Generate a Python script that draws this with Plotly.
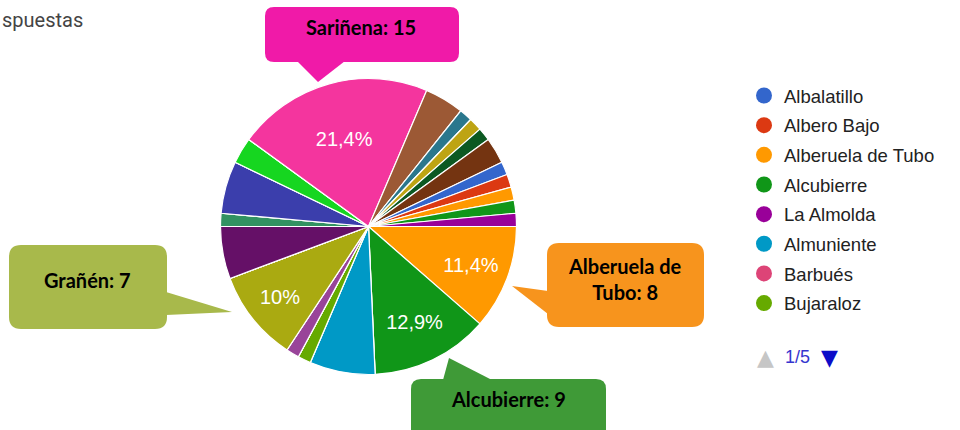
import math
import plotly.graph_objects as go

# ---------------- data ----------------
categories = [
    "Albalatillo", "Albero Bajo", "Alberuela de Tubo", "Alcubierre", "La Almolda",
    "Almuniente", "Barbués", "Bujaraloz", "Capdesaso", "Castejón de Monegros",
    "Castelflorite", "Farlete", "Grañén", "Huerto", "Lalueza", "Lanaja",
    "Leciñena", "Monegrillo", "Peñalba", "Perdiguera", "Poleñino", "Robres",
    "Sangarrén", "Sariñena", "Sena", "Senés de Alcubierre", "Tardienta",
    "Torralba de Aragón", "Torres de Barbués", "Valfarta", "Villanueva de Sigena",
    "Cartuja de Monegros", "Lastanosa", "Orillena", "Pallaruelo de Monegros",
    "San Juan del Flumen",
]
responses = [
    0, 0, 8, 9, 0,
    5, 0, 1, 0, 0,
    1, 0, 7, 0, 0, 0,
    4, 1, 0, 4, 0, 2,
    0, 15, 3, 0, 1,
    0, 1, 1, 2,
    1, 1, 1, 1,
    1,
]
palette = [
    "#3366cc", "#dc3912", "#ff9900", "#109618", "#990099", "#0099c6", "#dd4477",
    "#66aa00", "#b82e2e", "#316395", "#994499", "#22aa99", "#aaaa11", "#6633cc",
    "#e67300", "#8b0707", "#651067", "#329262", "#5574a6", "#3b3eac", "#b77322",
    "#16d620", "#b91383", "#f4359e", "#9c5935", "#a9c413", "#2a778d", "#668d1c",
    "#bea413", "#0c5922", "#743411",
]
callout_names = ["Sariñena", "Alberuela de Tubo", "Alcubierre", "Grañén"]
title_text = "spuestas"
legend_page_size = 8
legend_page = 1

# ---------------- derived ----------------
total = sum(responses)
colors = [palette[i % len(palette)] for i in range(len(categories))]


def pct_label(v):
    p = v / total * 100
    if p < 9.5:
        return ""
    s = f"{p:.1f}".rstrip("0").rstrip(".")
    return s.replace(".", ",") + "%"


slice_text = [pct_label(v) for v in responses]

W, H = 960, 430
cx, cy, r = 368.5, 226.5, 148

fig = go.Figure()

fig.add_trace(go.Pie(
    labels=categories,
    values=responses,
    sort=False,
    direction="clockwise",
    rotation=90,
    marker=dict(colors=colors, line=dict(color="white", width=1.2)),
    text=slice_text,
    textinfo="text",
    textposition="inside",
    insidetextorientation="horizontal",
    textfont=dict(family="Liberation Sans, Arial", size=20, color="white"),
    showlegend=False,
    hoverinfo="label+value+percent",
    domain=dict(x=[(cx - r) / W, (cx + r) / W], y=[1 - (cy + r) / H, 1 - (cy - r) / H]),
))

# legend entries (first page)
start = (legend_page - 1) * legend_page_size
for name, col in zip(categories[start:start + legend_page_size], colors[start:start + legend_page_size]):
    fig.add_trace(go.Scatter(
        x=[None], y=[None], mode="markers", name=name, legendgroup=name,
        marker=dict(color=col, size=16, symbol="circle"),
        xaxis="x", yaxis="y",
    ))

n_pages = math.ceil(len(categories) / legend_page_size)


def rrect(x0, y0, x1, y1, rad):
    return (f"M {x0+rad},{y0} L {x1-rad},{y0} Q {x1},{y0} {x1},{y0+rad} "
            f"L {x1},{y1-rad} Q {x1},{y1} {x1-rad},{y1} L {x0+rad},{y1} "
            f"Q {x0},{y1} {x0},{y1-rad} L {x0},{y0+rad} Q {x0},{y0} {x0+rad},{y0} Z")


def tri(p):
    return f"M {p[0][0]},{p[0][1]} L {p[1][0]},{p[1][1]} L {p[2][0]},{p[2][1]} Z"


# callout layout: box, pointer, fill, text pos, wrapped text
callout_style = {
    "Sariñena": dict(box=(265, 7, 459, 62, 9), ptr=((297, 61), (345, 61), (318, 82)),
                     fill="#f01aa8", pos=(361, 27), wrap=None),
    "Alberuela de Tubo": dict(box=(547, 243, 704, 327, 12), ptr=((548, 291), (512, 286), (548, 314)),
                              fill="#f7941d", pos=(625, 279), wrap="Alberuela de<br>Tubo"),
    "Alcubierre": dict(box=(411, 379, 606, 445, 10), ptr=((443, 380), (449, 358), (492, 380)),
                       fill="#3f9a37", pos=(508, 399), wrap=None),
    "Grañén": dict(box=(9, 245, 167, 329, 12), ptr=((166, 292), (232, 312), (166, 315)),
                   fill="#a8b94b", pos=(87, 280), wrap=None),
}

shapes = []
annotations = []
for name in callout_names:
    st = callout_style[name]
    x0, y0, x1, y1, rad = st["box"]
    shapes.append(dict(type="path", path=rrect(x0, y0, x1, y1, rad), xref="x", yref="y",
                       fillcolor=st["fill"], line=dict(width=0), layer="above"))
    shapes.append(dict(type="path", path=tri(st["ptr"]), xref="x", yref="y",
                       fillcolor=st["fill"], line=dict(width=0), layer="above"))
    label = st["wrap"] if st["wrap"] else name
    val = responses[categories.index(name)]
    annotations.append(dict(
        x=st["pos"][0], y=st["pos"][1], xref="x", yref="y",
        text=f"<b>{label}: {val}</b>", showarrow=False,
        font=dict(family="Lato, Liberation Sans", size=20, color="black"),
        align="center",
    ))

annotations.append(dict(x=0, y=20, xref="x", yref="y", xanchor="left", text=title_text,
                        showarrow=False, font=dict(family="Roboto, Liberation Sans", size=20, color="#444444")))
annotations.append(dict(x=765, y=357, xref="x", yref="y", text="▲", showarrow=False,
                        font=dict(family="DejaVu Sans", size=22, color="#c6c6c6")))
annotations.append(dict(x=797, y=357, xref="x", yref="y", text=f"{legend_page}/{n_pages}", showarrow=False,
                        font=dict(family="Liberation Sans, Arial", size=18, color="#3535cf")))
annotations.append(dict(x=829, y=357, xref="x", yref="y", text="▼", showarrow=False,
                        font=dict(family="DejaVu Sans", size=22, color="#0c0cc8")))

fig.update_layout(
    width=W, height=H,
    margin=dict(l=0, r=0, t=0, b=0),
    paper_bgcolor="white", plot_bgcolor="white",
    xaxis=dict(range=[0, W], visible=False, fixedrange=True, domain=[0, 1]),
    yaxis=dict(range=[H, 0], visible=False, fixedrange=True, domain=[0, 1]),
    shapes=shapes,
    annotations=annotations,
    showlegend=True,
    legend=dict(
        x=744 / W, y=1 - 77 / H, xanchor="left", yanchor="top",
        font=dict(family="Liberation Sans, Arial", size=18.5, color="#222222"),
        tracegroupgap=2.6, itemsizing="trace", bgcolor="rgba(0,0,0,0)",
    ),
)

fig.write_html("out.html", config={"displayModeBar": False},
               post_script="document.body.style.margin='0';")
